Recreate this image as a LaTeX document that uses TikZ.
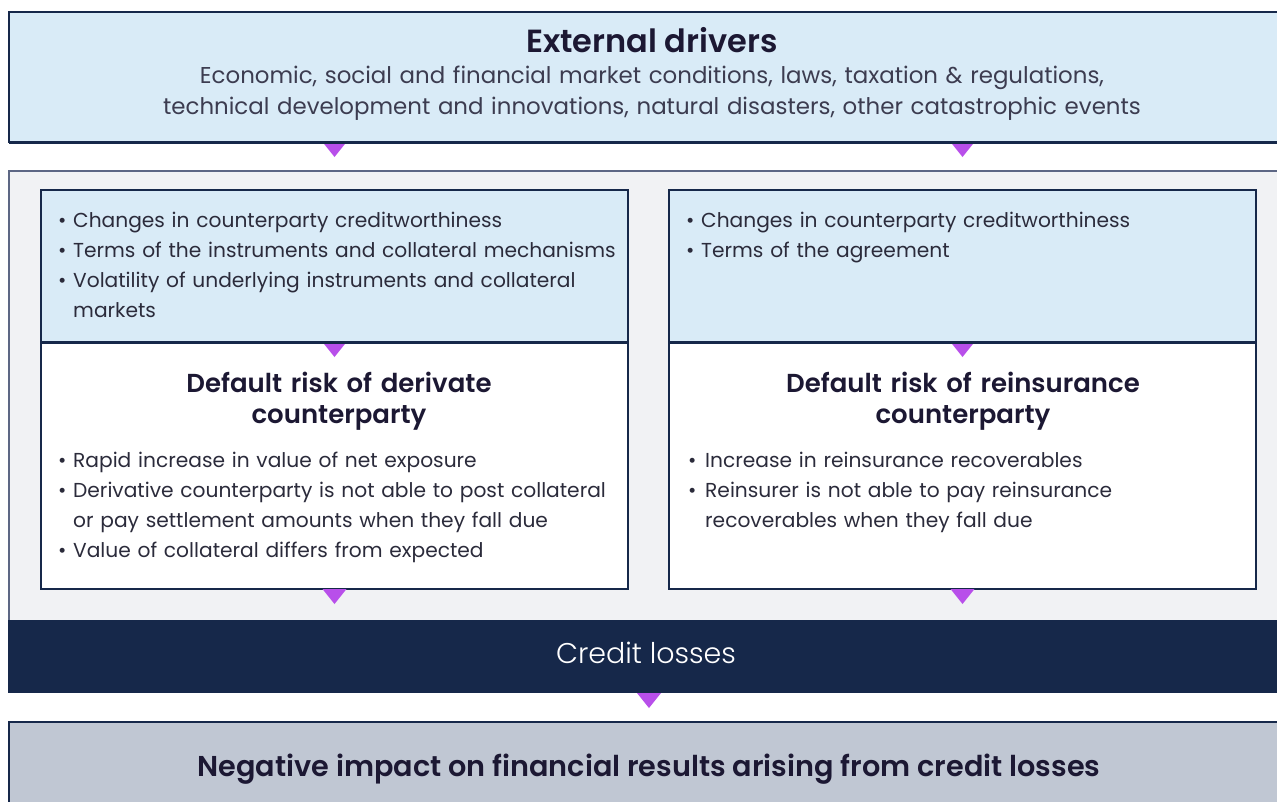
\documentclass[tikz,border=0pt]{standalone}
\usepackage{fontspec}
\setmainfont{Poppins}[BoldFont={Poppins SemiBold}]
\newfontfamily\lightfont{Poppins Light}
\usetikzlibrary{calc}

\definecolor{skyfill}{HTML}{D9EBF7}
\definecolor{navy}{HTML}{16284A}
\definecolor{panelfill}{HTML}{F1F2F4}
\definecolor{panelline}{HTML}{5D6784}
\definecolor{violet}{HTML}{B84FEA}
\definecolor{slatefill}{HTML}{C0C7D3}
\definecolor{ink}{HTML}{1C1833}
\definecolor{bodyink}{HTML}{3C3C50}
\definecolor{listink}{HTML}{2B2B3B}

% bullet with a fixed hanging width
\newcommand\bul[1][15pt]{\makebox[#1][l]{\textbullet}}
% small downward marker hanging from a top-centre coordinate
\newcommand\dropmark[1]{\fill[violet] ([xshift=-12pt]#1) -- ([xshift=12pt]#1) -- ([yshift=-15pt]#1) -- cycle;}

\tikzset{
  box/.style={rectangle, inner sep=0pt, outer sep=0pt, anchor=north west},
  heading/.style={inner sep=0pt, text=ink, font=\bfseries},
  listtext/.style={inner sep=0pt, anchor=base west, text=listink, align=left,
                   font=\fontsize{20.2}{30.3}\selectfont},
}

\begin{document}
\begin{tikzpicture}[x=1pt,y=-1pt]
\useasboundingbox (0,0) rectangle (1277,801);
\clip (0,0) rectangle (1277,801);
\fill[white] (0,0) rectangle (1277,801);

% ---- frames ----
\node[box, fill=skyfill, draw=navy, line width=1.3pt,
      minimum width=1285pt, minimum height=130pt] (ext) at (9,12) {};
\node[box, fill=panelfill, draw=panelline, line width=2pt,
      minimum width=1285pt, minimum height=460pt] (panel) at (9,171) {};

\node[box, fill=skyfill, draw=navy, line width=1.5pt,
      minimum width=587pt, minimum height=152pt] (lblue) at (41,190) {};
\node[box, fill=white, draw=navy, line width=1.5pt,
      minimum width=587pt, minimum height=247pt] (lwhite) at (41,342) {};
\node[box, fill=skyfill, draw=navy, line width=1.5pt,
      minimum width=587pt, minimum height=152pt] (rblue) at (669,190) {};
\node[box, fill=white, draw=navy, line width=1.5pt,
      minimum width=587pt, minimum height=247pt] (rwhite) at (669,342) {};

\node[box, fill=navy, minimum width=1282pt, minimum height=73pt] (credit) at (8,620) {};
\node[box, fill=slatefill, draw=navy, line width=1.5pt,
      minimum width=1285pt, minimum height=100pt] (impact) at (9,722) {};

% ---- markers ----
\coordinate (m1) at (ext.south -| lblue.north);
\coordinate (m2) at (ext.south -| rblue.north);
\dropmark{m1}
\dropmark{m2}
\dropmark{lwhite.north}
\dropmark{rwhite.north}
\dropmark{lwhite.south}
\dropmark{rwhite.south}
\dropmark{credit.south}

% ---- heavier rules ----
\draw[navy, line width=3pt] (ext.south west) -- (ext.south east);
\draw[navy, line width=3pt] (lwhite.north west) -- (lwhite.north east);
\draw[navy, line width=3pt] (rwhite.north west) -- (rwhite.north east);
\draw[navy, line width=2.2pt] (impact.north west) -- (impact.north east);

% ---- texts ----
\node[heading, anchor=base, font=\bfseries\fontsize{32}{34}\selectfont] (title) at (652,52) {External drivers};
\node[inner sep=0pt, anchor=base, text width=1200pt, align=center, text=bodyink,
      font=\fontsize{22.9}{31}\selectfont] (drivers) at (652,83)
  {Economic, social and financial market conditions, laws, taxation \& regulations,\\
   technical development and innovations, natural disasters, other catastrophic events};

\node[listtext, text width=570pt] (lcauses) at (58,227)
  {\bul Changes in counterparty creditworthiness\\
   \bul Terms of the instruments and collateral mechanisms\\
   \bul Volatility of underlying instruments and collateral\\
   \hspace*{15pt}markets};
\node[listtext, text width=560pt] (rcauses) at (686,227)
  {\bul Changes in counterparty creditworthiness\\
   \bul Terms of the agreement};

\node[heading, anchor=base, text width=560pt, align=center,
      font=\bfseries\fontsize{26}{31}\selectfont] (lrisk) at (339,392)
  {Default risk of derivate\\ counterparty};
\node[heading, anchor=base, text width=560pt, align=center,
      font=\bfseries\fontsize{26}{31}\selectfont] (rrisk) at (963,392)
  {Default risk of reinsurance\\ counterparty};

\node[listtext, text width=570pt] (leffects) at (58,467)
  {\bul Rapid increase in value of net exposure\\
   \bul Derivative counterparty is not able to post collateral\\
   \hspace*{15pt}or pay settlement amounts when they fall due\\
   \bul Value of collateral differs from expected};
\node[listtext, text width=560pt] (reffects) at (688,467)
  {\bul[17pt]Increase in reinsurance recoverables\\
   \bul[17pt]Reinsurer is not able to pay reinsurance\\
   \hspace*{17pt}recoverables when they fall due};

\node[inner sep=0pt, anchor=base, text=white, font=\lightfont\fontsize{28.5}{32}\selectfont]
  (creditlabel) at (646,663) {Credit losses};
\node[heading, anchor=base, font=\bfseries\fontsize{28.7}{32}\selectfont]
  (impactlabel) at (649,776) {Negative impact on financial results arising from credit losses};
\end{tikzpicture}
\end{document}
